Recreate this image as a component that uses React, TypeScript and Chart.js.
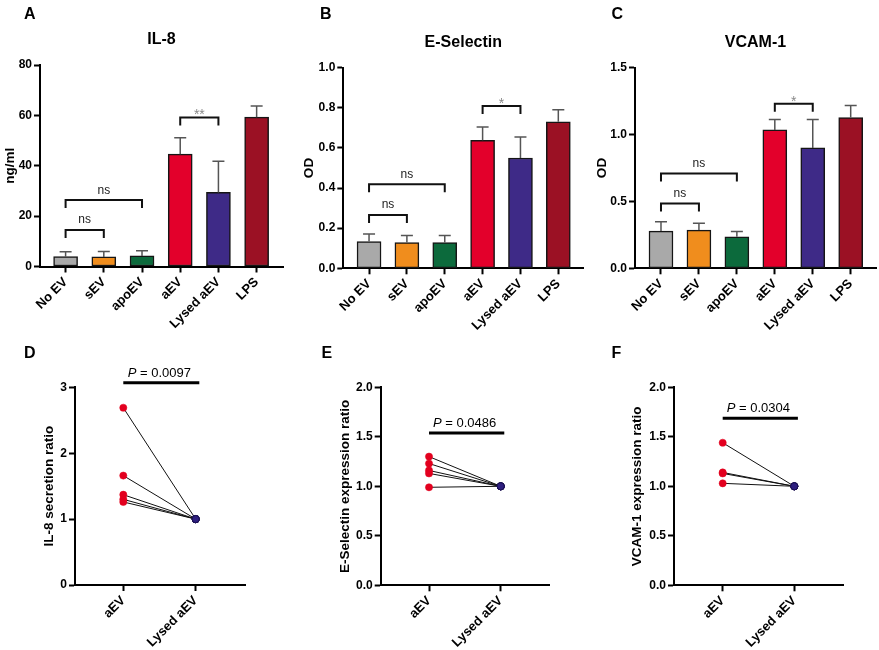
import React, { useEffect, useRef } from 'react';
import { Chart, registerables } from 'chart.js';

Chart.register(...registerables);

const FONT = '"Liberation Sans", Arial, Helvetica, sans-serif';
Chart.defaults.font.family = FONT;

// ---------------- Data ----------------
const barCategories = ['No EV', 'sEV', 'apoEV', 'aEV', 'Lysed aEV', 'LPS'];
const barColors = ['#a9a9a9', '#f08d1d', '#0c6a3c', '#e3002b', '#3e2a87', '#9b1124'];

const il8Mean = [3.9, 3.8, 4.2, 44.6, 29.4, 59.3];
const il8Sd = [2.0, 2.2, 2.1, 6.5, 12.4, 4.4];
const il8YTicks = [0, 20, 40, 60, 80];
// [from, to, y, label]
const il8Brackets: [number, number, number, string][] = [
  [0, 2, 26.4, 'ns'],
  [0, 1, 14.5, 'ns'],
  [3, 4, 59.2, '**'],
];

const eselMean = [0.133, 0.128, 0.128, 0.638, 0.55, 0.73];
const eselSd = [0.038, 0.035, 0.036, 0.067, 0.105, 0.06];
const eselYTicks = [0, 0.2, 0.4, 0.6, 0.8, 1.0];
const eselBrackets: [number, number, number, string][] = [
  [0, 2, 0.419, 'ns'],
  [0, 1, 0.266, 'ns'],
  [3, 4, 0.809, '*'],
];

const vcamMean = [0.278, 0.286, 0.236, 1.035, 0.9, 1.127];
const vcamSd = [0.07, 0.05, 0.04, 0.077, 0.212, 0.09];
const vcamYTicks = [0, 0.5, 1.0, 1.5];
const vcamBrackets: [number, number, number, string][] = [
  [0, 2, 0.709, 'ns'],
  [0, 1, 0.485, 'ns'],
  [3, 4, 1.231, '*'],
];

const pairLabels = ['aEV', 'Lysed aEV'];
const il8RatioAEV = [2.69, 1.66, 1.37, 1.30, 1.26];
const il8RatioLysed = [1, 1, 1, 1, 1];
const il8RatioTicks = [0, 1, 2, 3];
const il8P = '0.0097';
const il8PBarY = 3.07;

const eselRatioAEV = [1.30, 1.23, 1.16, 1.13, 0.99];
const eselRatioLysed = [1, 1, 1, 1, 1];
const eselRatioTicks = [0, 0.5, 1.0, 1.5, 2.0];
const eselP = '0.0486';
const eselPBarY = 1.538;

const vcamRatioAEV = [1.44, 1.14, 1.13, 1.03];
const vcamRatioLysed = [1, 1, 1, 1];
const vcamRatioTicks = [0, 0.5, 1.0, 1.5, 2.0];
const vcamP = '0.0304';
const vcamPBarY = 1.687;

// ---------------- Layout / style ----------------
type Box = { x: number; y: number; w: number; h: number };
type Area = { l: number; t: number; r: number; b: number };

type Spec = {
  kind: 'bar' | 'pair';
  box: Box;
  area: Area;
  letter: { text: string; x: number; y: number };
  title?: string;
  yTitle: string;
  yTitleX: number;
  yTicks: number[];
  yFmt: (v: number) => string;
  xLabels: string[];
  xMin: number;
  xMax: number;
  mean?: number[];
  sd?: number[];
  brackets?: [number, number, number, string][];
  aev?: number[];
  lysed?: number[];
  pText?: string;
  pBarY?: number;
};

const X_AXIS_H = 75;
const fmt0 = (v: number) => String(Math.round(v));
const fmt1 = (v: number) => v.toFixed(1);

const specs: Spec[] = [
  {
    kind: 'bar', box: { x: 0, y: 0, w: 290, h: 350 }, area: { l: 40, t: 65, r: 283, b: 266.5 },
    letter: { text: 'A', x: 24, y: 18.5 }, title: 'IL-8', yTitle: 'ng/ml', yTitleX: 10,
    yTicks: il8YTicks, yFmt: fmt0, xLabels: barCategories, xMin: -0.67, xMax: 5.69,
    mean: il8Mean, sd: il8Sd, brackets: il8Brackets,
  },
  {
    kind: 'bar', box: { x: 290, y: 0, w: 295, h: 350 }, area: { l: 343.3, t: 67.7, r: 583.3, b: 268.3 },
    letter: { text: 'B', x: 320, y: 18.5 }, title: 'E-Selectin', yTitle: 'OD', yTitleX: 309,
    yTicks: eselYTicks, yFmt: fmt1, xLabels: barCategories, xMin: -0.68, xMax: 5.66,
    mean: eselMean, sd: eselSd, brackets: eselBrackets,
  },
  {
    kind: 'bar', box: { x: 585, y: 0, w: 294, h: 350 }, area: { l: 635, t: 67.7, r: 876, b: 268.3 },
    letter: { text: 'C', x: 611.5, y: 18.5 }, title: 'VCAM-1', yTitle: 'OD', yTitleX: 602.5,
    yTicks: vcamYTicks, yFmt: fmt1, xLabels: barCategories, xMin: -0.685, xMax: 5.667,
    mean: vcamMean, sd: vcamSd, brackets: vcamBrackets,
  },
  {
    kind: 'pair', box: { x: 0, y: 330, w: 290, h: 340 }, area: { l: 75, t: 387.3, r: 245, b: 585 },
    letter: { text: 'D', x: 24, y: 358.3 }, yTitle: 'IL-8 secretion ratio', yTitleX: 49,
    yTicks: il8RatioTicks, yFmt: fmt0, xLabels: pairLabels, xMin: -0.667, xMax: 1.681,
    aev: il8RatioAEV, lysed: il8RatioLysed, pText: il8P, pBarY: il8PBarY,
  },
  {
    kind: 'pair', box: { x: 290, y: 330, w: 295, h: 340 }, area: { l: 380.7, t: 387.3, r: 549.3, b: 585.3 },
    letter: { text: 'E', x: 321.5, y: 358.3 }, yTitle: 'E-Selectin expression ratio', yTitleX: 345.5,
    yTicks: eselRatioTicks, yFmt: fmt1, xLabels: pairLabels, xMin: -0.674, xMax: 1.678,
    aev: eselRatioAEV, lysed: eselRatioLysed, pText: eselP, pBarY: eselPBarY,
  },
  {
    kind: 'pair', box: { x: 585, y: 330, w: 294, h: 340 }, area: { l: 674, t: 387.3, r: 843.3, b: 585.3 },
    letter: { text: 'F', x: 611.5, y: 358.3 }, yTitle: 'VCAM-1 expression ratio', yTitleX: 637.5,
    yTicks: vcamRatioTicks, yFmt: fmt1, xLabels: pairLabels, xMin: -0.68, xMax: 1.684,
    aev: vcamRatioAEV, lysed: vcamRatioLysed, pText: vcamP, pBarY: vcamPBarY,
  },
];

function makeAnnotationPlugin(spec: Spec) {
  return {
    id: 'annot',
    afterDatasetsDraw(chart: any) {
      const ctx: CanvasRenderingContext2D = chart.ctx;
      const ys = chart.scales.y;
      ctx.save();
      if (spec.kind === 'bar' && spec.mean && spec.sd) {
        const meta = chart.getDatasetMeta(0);
        ctx.strokeStyle = '#555';
        ctx.lineWidth = 1.5;
        meta.data.forEach((el: any, i: number) => {
          const top = ys.getPixelForValue(spec.mean![i] + spec.sd![i]);
          ctx.beginPath();
          ctx.moveTo(el.x, el.y);
          ctx.lineTo(el.x, top);
          ctx.moveTo(el.x - 6, top);
          ctx.lineTo(el.x + 6, top);
          ctx.stroke();
        });
      }
      ctx.restore();
    },
    afterDraw(chart: any) {
      const ctx: CanvasRenderingContext2D = chart.ctx;
      const xs = chart.scales.x;
      const ys = chart.scales.y;
      const ca = chart.chartArea;
      ctx.save();
      // panel letter
      ctx.fillStyle = '#000';
      ctx.textBaseline = 'alphabetic';
      ctx.textAlign = 'left';
      ctx.font = `bold 16px ${FONT}`;
      ctx.fillText(spec.letter.text, spec.letter.x - spec.box.x, spec.letter.y - spec.box.y);
      // title
      if (spec.title) {
        ctx.textAlign = 'center';
        ctx.font = `bold 16px ${FONT}`;
        ctx.fillText(spec.title, (ca.left + ca.right) / 2, ca.top - 21);
      }
      // brackets
      if (spec.brackets) {
        spec.brackets.forEach(([a, b, v, label]) => {
          const x1 = xs.getPixelForValue(a);
          const x2 = xs.getPixelForValue(b);
          const y = ys.getPixelForValue(v);
          ctx.strokeStyle = '#111';
          ctx.lineWidth = 2;
          ctx.beginPath();
          ctx.moveTo(x1, y + 8);
          ctx.lineTo(x1, y);
          ctx.lineTo(x2, y);
          ctx.lineTo(x2, y + 8);
          ctx.stroke();
          ctx.textAlign = 'center';
          if (label === 'ns') {
            ctx.fillStyle = '#222';
            ctx.font = `12px ${FONT}`;
            ctx.fillText(label, (x1 + x2) / 2, y - 6.5);
          } else {
            ctx.fillStyle = '#888';
            ctx.font = `14px ${FONT}`;
            ctx.fillText(label, (x1 + x2) / 2, y + 2);
          }
        });
      }
      // P bar
      if (spec.pText && spec.pBarY !== undefined) {
        const x1 = xs.getPixelForValue(0);
        const x2 = xs.getPixelForValue(1.05);
        const y = ys.getPixelForValue(spec.pBarY);
        ctx.strokeStyle = '#000';
        ctx.lineWidth = 3;
        ctx.beginPath();
        ctx.moveTo(x1, y);
        ctx.lineTo(x2, y);
        ctx.stroke();
        ctx.fillStyle = '#000';
        ctx.font = `italic 13px ${FONT}`;
        const pw = ctx.measureText('P').width;
        ctx.font = `13px ${FONT}`;
        const rest = ' = ' + spec.pText;
        const rw = ctx.measureText(rest).width;
        const cx = (x1 + x2) / 2 - 2;
        const sx = cx - (pw + rw) / 2;
        const ty = y - 6;
        ctx.textAlign = 'left';
        ctx.font = `italic 13px ${FONT}`;
        ctx.fillText('P', sx, ty);
        ctx.font = `13px ${FONT}`;
        ctx.fillText(rest, sx + pw, ty);
      }
      ctx.restore();
    },
  };
}

function buildConfig(spec: Spec): any {
  const { box, area } = spec;
  const yAxisWidth = area.l - box.x;
  const padding = {
    left: 0,
    top: area.t - box.y,
    right: box.x + box.w - area.r,
    bottom: box.y + box.h - area.b - X_AXIS_H,
  };
  const gridOpts = {
    display: true,
    offset: false,
    drawOnChartArea: false,
    drawTicks: true,
    tickLength: 6,
    tickWidth: 2,
    tickColor: '#000',
    color: '#000',
  };
  const borderOpts = { display: true, color: '#000', width: 2 };
  const scales = {
    x: {
      type: 'linear',
      offset: false,
      min: spec.xMin,
      max: spec.xMax,
      afterBuildTicks: (s: any) => {
        s.ticks = spec.xLabels.map((_, i) => ({ value: i }));
      },
      afterFit: (s: any) => {
        s.height = X_AXIS_H;
      },
      ticks: {
        autoSkip: false,
        minRotation: 45,
        maxRotation: 45,
        padding: 2,
        color: '#000',
        font: { family: FONT, size: 13, weight: 'bold' },
        callback: (v: number) => spec.xLabels[Math.round(v)] ?? '',
      },
      grid: gridOpts,
      border: borderOpts,
    },
    y: {
      type: 'linear',
      min: spec.yTicks[0],
      max: spec.yTicks[spec.yTicks.length - 1],
      afterBuildTicks: (s: any) => {
        s.ticks = spec.yTicks.map((v) => ({ value: v }));
      },
      afterFit: (s: any) => {
        s.width = yAxisWidth;
      },
      ticks: {
        padding: 2,
        color: '#000',
        font: { family: FONT, size: 12, weight: 'bold' },
        callback: (v: number) => spec.yFmt(v),
      },
      grid: gridOpts,
      border: borderOpts,
      title: {
        display: true,
        text: spec.yTitle,
        color: '#000',
        font: { family: FONT, size: 13.5, weight: 'bold', lineHeight: 1.2 },
        padding: { top: spec.yTitleX - box.x - 8.1, bottom: 0 },
      },
    },
  };

  let data: any;
  let type: any;
  if (spec.kind === 'bar') {
    type = 'bar';
    data = {
      datasets: [
        {
          data: spec.mean!.map((v, i) => ({ x: i, y: v })),
          backgroundColor: barColors,
          borderColor: '#151515',
          borderWidth: 1.5,
          borderSkipped: false,
          barThickness: 24,
        },
      ],
    };
  } else {
    type = 'scatter';
    const lines = spec.aev!.map((v, i) => ({
      data: [
        { x: 0, y: v },
        { x: 1, y: spec.lysed![i] },
      ],
      showLine: true,
      borderColor: '#111',
      borderWidth: 1,
      pointRadius: 0,
      order: 2,
    }));
    data = {
      datasets: [
        {
          data: spec.aev!.map((v) => ({ x: 0, y: v })),
          pointRadius: 3.6,
          pointBackgroundColor: '#e3001f',
          pointBorderColor: '#e3001f',
          pointBorderWidth: 0.5,
          order: 0,
        },
        {
          data: spec.lysed!.map((v) => ({ x: 1, y: v })),
          pointRadius: 3.6,
          pointBackgroundColor: '#2e1f80',
          pointBorderColor: '#1a1050',
          pointBorderWidth: 1,
          order: 0,
        },
        ...lines,
      ],
    };
  }

  return {
    type,
    data,
    options: {
      responsive: false,
      animation: false,
      devicePixelRatio: 1,
      layout: { padding },
      plugins: {
        legend: { display: false },
        tooltip: { enabled: false },
        title: { display: false },
      },
      scales,
    },
    plugins: [makeAnnotationPlugin(spec)],
  };
}

function PanelChart({ spec }: { spec: Spec }) {
  const ref = useRef<HTMLCanvasElement>(null);
  useEffect(() => {
    if (!ref.current) return;
    const chart = new Chart(ref.current, buildConfig(spec));
    return () => chart.destroy();
  }, [spec]);
  return (
    <canvas
      ref={ref}
      width={spec.box.w}
      height={spec.box.h}
      style={{
        position: 'absolute',
        left: spec.box.x,
        top: spec.box.y,
        width: spec.box.w,
        height: spec.box.h,
      }}
    />
  );
}

export default function App() {
  return (
    <div
      style={{
        position: 'absolute',
        left: 0,
        top: 0,
        width: 879,
        height: 650,
        background: '#fff',
        overflow: 'hidden',
      }}
    >
      {specs.map((s) => (
        <PanelChart key={s.letter.text} spec={s} />
      ))}
    </div>
  );
}
